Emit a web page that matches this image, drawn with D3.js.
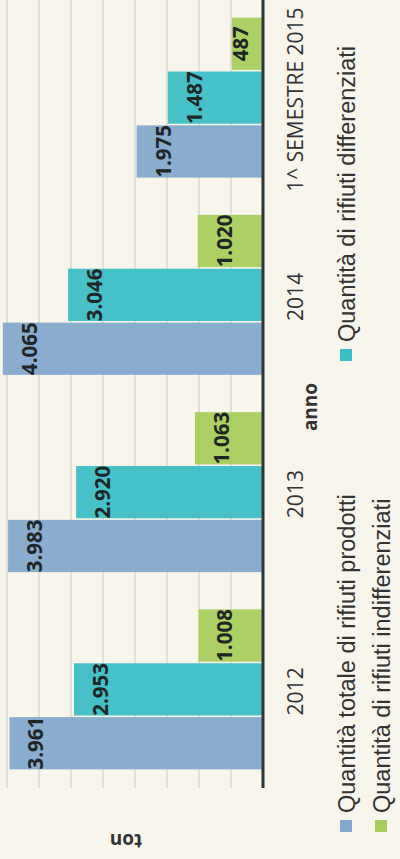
<!DOCTYPE html>
<html>
<head>
<meta charset="utf-8">
<script src="https://cdn.jsdelivr.net/npm/d3@7"></script>
<style>
  html, body { margin: 0; padding: 0; background: #f8f5ec; }
  svg { display: block; }
  .grid line { stroke: #cbc9c2; stroke-width: 1; }
  .cat { font-family: "Open Sans", sans-serif; font-size: 21px; fill: #333; }
  .val { font-family: "Open Sans", sans-serif; font-weight: 700; font-size: 20.5px; fill: #1e2626; }
  .title { font-family: "Open Sans", sans-serif; font-weight: 700; font-size: 19px; fill: #333; }
  .legend text { font-family: "Liberation Sans", Arial, sans-serif; font-size: 23.5px; fill: #333; }
</style>
</head>
<body>
<svg id="chart" width="400" height="859"></svg>
<script>
// chart values, tons per year
const categories = ['2012', '2013', '2014', '1^ SEMESTRE 2015'];
const seriesNames = [
    'Quantità totale di rifiuti prodotti',
    'Quantità di rifiuti differenziati',
    'Quantità di rifiuti indifferenziati'
];
const totale = [3961, 3983, 4065, 1975];
const differenziati = [2953, 2920, 3046, 1487];
const indifferenziati = [1008, 1063, 1020, 487];
const gridTicks = [500, 1000, 1500, 2000, 2500, 3000, 3500, 4000, 4500];

const colors = ['#82a8cd', '#3bbdc6', '#a7cd5b'];
const series = [totale, differenziati, indifferenziati];

const svg = d3.select('#chart');
const itFormat = d3.formatLocale({decimal: ',', thousands: '.', grouping: [3], currency: ['€', '']}).format(',d');

// the chart is drawn turned on its side: values grow to the left
const base = 263;
let x = d3.scaleLinear().domain([0, 4500]).range([base, base - 4500 * 0.064]);
let y = d3.scaleBand().domain(categories).range([788, -1]).paddingInner(0.189).paddingOuter(0.0945);
let ySub = d3.scaleBand().domain([0, 1, 2]).range([y.bandwidth(), 0]).paddingInner(0.03);

// gridlines
svg.append('g').attr('class', 'grid')
    .selectAll('line')
    .data(gridTicks)
    .enter()
    .append('line')
    .attr('x1', d => x(d)).attr('x2', d => x(d))
    .attr('y1', 0).attr('y2', 788);

// bars
let groups = svg.selectAll('.group')
    .data(categories)
    .enter()
    .append('g')
    .attr('class', 'group')
    .attr('transform', d => 'translate(0,' + y(d) + ')');

groups.each(function(cat, ci) {
    let g = d3.select(this);
    series.forEach((s, si) => {
        let v = s[ci];
        g.append('rect')
            .attr('x', x(v))
            .attr('y', ySub(si))
            .attr('width', base - x(v))
            .attr('height', ySub.bandwidth())
            .attr('fill', colors[si])
            .attr('fill-opacity', 0.94);
        let lx = Math.min(x(v) + 34, base - 15);
        let ly = ySub(si) + ySub.bandwidth() / 2;
        g.append('text')
            .attr('class', 'val')
            .attr('text-anchor', 'middle')
            .attr('transform', 'translate(' + lx + ',' + ly + ') rotate(-90)')
            .text(itFormat(v));
    });
});

// baseline
svg.append('line')
    .attr('x1', base).attr('x2', base)
    .attr('y1', 0).attr('y2', 788)
    .attr('stroke', '#2c3636').attr('stroke-width', 3);

// category labels
svg.selectAll('.cat')
    .data(categories)
    .enter()
    .append('text')
    .attr('class', 'cat')
    .attr('text-anchor', 'middle')
    .attr('transform', d => 'translate(303,' + (y(d) + y.bandwidth() / 2 + 2) + ') rotate(-90)')
    .text(d => d);

// axis titles
svg.append('text').attr('class', 'title')
    .attr('text-anchor', 'middle')
    .attr('transform', 'translate(317,407) rotate(-90)')
    .text('anno');

svg.append('text').attr('class', 'title')
    .attr('text-anchor', 'middle')
    .attr('transform', 'translate(126,834) rotate(180)')
    .text('ton');

// legend
const legendPos = [[355, 813], [355, 342], [390, 813]];
let legend = svg.append('g').attr('class', 'legend');
seriesNames.forEach((name, i) => {
    let p = legendPos[i];
    legend.append('rect')
        .attr('x', p[0] - 15).attr('y', p[1] + 7)
        .attr('width', 12).attr('height', 12)
        .attr('fill', colors[i]);
    legend.append('text')
        .attr('transform', 'translate(' + p[0] + ',' + p[1] + ') rotate(-90)')
        .text(name);
});
</script>
</body>
</html>
